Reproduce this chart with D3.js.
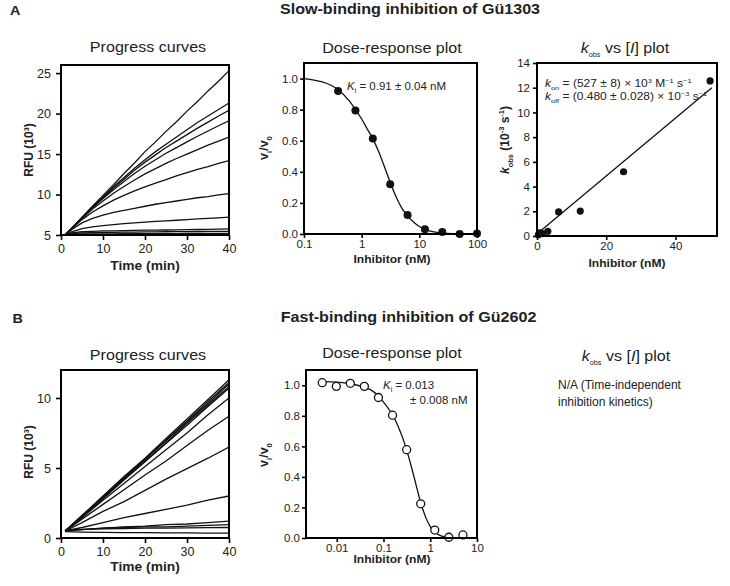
<!DOCTYPE html>
<html><head><meta charset="utf-8">
<script src="https://cdn.jsdelivr.net/npm/d3@7"></script>
<style>body{margin:0;background:#fff}svg{display:block}text{font-family:"Liberation Sans",Arial,sans-serif;fill:#222}</style>
</head><body><svg id="c" width="730" height="586"></svg>
<script>
// ---------------- DATA ----------------
const timeA = [1, 2.5, 5, 7.5, 10, 12.5, 15, 17.5, 20, 22.5, 25, 27.5, 30, 32.5, 35, 37.5, 40];
const progressA1 = [5.0, 5.8, 7.2, 8.55, 9.9, 11.2, 12.6, 13.9, 15.3, 16.5, 17.8, 19.0, 20.3, 21.5, 22.8, 24.0, 25.3];
const progressA2 = [5.0, 5.8, 7.15, 8.45, 9.7, 10.95, 12.1, 13.25, 14.3, 15.3, 16.2, 17.1, 18.0, 18.9, 19.7, 20.5, 21.3];
const progressA3 = [5.0, 5.8, 7.15, 8.4, 9.6, 10.8, 11.9, 13.0, 14.0, 14.9, 15.8, 16.6, 17.4, 18.2, 18.95, 19.7, 20.4];
const progressA4 = [5.0, 5.8, 7.1, 8.35, 9.5, 10.6, 11.6, 12.6, 13.5, 14.3, 15.1, 15.8, 16.5, 17.2, 17.85, 18.5, 19.1];
const progressA5 = [5.0, 5.78, 7.05, 8.2, 9.2, 10.15, 11.0, 11.8, 12.55, 13.2, 13.85, 14.45, 15.0, 15.55, 16.1, 16.6, 17.1];
const progressA6 = [5.0, 5.75, 6.9, 7.85, 8.6, 9.3, 9.9, 10.45, 10.95, 11.4, 11.85, 12.3, 12.7, 13.1, 13.45, 13.85, 14.2];
const progressA7 = [5.0, 5.65, 6.5, 7.05, 7.45, 7.8, 8.05, 8.3, 8.55, 8.8, 9.0, 9.2, 9.4, 9.6, 9.75, 9.95, 10.1];
const progressA8 = [5.0, 5.4, 5.8, 6.0, 6.15, 6.28, 6.4, 6.5, 6.6, 6.68, 6.75, 6.82, 6.9, 6.98, 7.05, 7.12, 7.2];
const progressA9 = [5.0, 5.25, 5.4, 5.45, 5.5, 5.52, 5.55, 5.57, 5.6, 5.61, 5.62, 5.64, 5.66, 5.68, 5.7, 5.72, 5.75];
const progressA10 = [5.0, 5.15, 5.25, 5.3, 5.32, 5.33, 5.35, 5.36, 5.38, 5.39, 5.4, 5.41, 5.42, 5.43, 5.44, 5.44, 5.45];
const progressA11 = [5.0, 5.08, 5.12, 5.14, 5.15, 5.15, 5.16, 5.16, 5.17, 5.17, 5.18, 5.18, 5.19, 5.19, 5.2, 5.2, 5.2];
const progressA12 = [5.0, 5.02, 5.03, 5.03, 5.04, 5.04, 5.04, 5.04, 5.04, 5.05, 5.05, 5.05, 5.05, 5.05, 5.05, 5.05, 5.05];

const timeB = [1, 5, 10, 15, 20, 25, 30, 35, 40];
const progressB1 = [0.5, 1.6, 3.0, 4.4, 5.7, 7.1, 8.5, 9.9, 11.3];
const progressB2 = [0.5, 1.55, 2.95, 4.3, 5.6, 7.0, 8.35, 9.75, 11.1];
const progressB3 = [0.5, 1.6, 2.9, 4.3, 5.65, 6.95, 8.3, 9.6, 11.0];
const progressB4 = [0.5, 1.5, 2.85, 4.2, 5.5, 6.8, 8.2, 9.5, 10.8];
const progressB5 = [0.5, 1.5, 2.8, 4.15, 5.45, 6.75, 8.05, 9.4, 10.7];
const progressB6 = [0.5, 1.45, 2.7, 3.9, 5.1, 6.3, 7.5, 8.8, 10.0];
const progressB7 = [0.5, 1.35, 2.4, 3.45, 4.5, 5.5, 6.6, 7.7, 8.7];
const progressB8 = [0.5, 1.1, 1.9, 2.6, 3.4, 4.2, 4.95, 5.7, 6.5];
const progressB9 = [0.5, 0.75, 1.1, 1.45, 1.75, 2.05, 2.35, 2.7, 3.0];
const progressB10 = [0.5, 0.6, 0.7, 0.8, 0.85, 0.95, 1.0, 1.1, 1.2];
const progressB11 = [0.55, 0.6, 0.7, 0.75, 0.8, 0.8, 0.85, 0.9, 0.95];
const progressB12 = [0.6, 0.62, 0.65, 0.68, 0.7, 0.7, 0.72, 0.74, 0.75];
const progressB13 = [0.45, 0.42, 0.4, 0.38, 0.38, 0.37, 0.36, 0.35, 0.35];

const doseAConc = [0.39, 0.78, 1.56, 3.125, 6.25, 12.5, 25, 50, 100];
const doseAResp = [0.92, 0.795, 0.614, 0.32, 0.123, 0.03, 0.013, 0.0, 0.004];
const doseAFitConc = [0.1, 0.15, 0.2, 0.3, 0.4, 0.6, 0.8, 1, 1.25, 1.5, 2, 2.5, 3, 4, 5, 6, 8, 10, 12.5, 15, 20, 30, 50, 100];
const doseAFitResp = [1.0, 0.99, 0.98, 0.955, 0.925, 0.86, 0.795, 0.74, 0.675, 0.625, 0.525, 0.43, 0.35, 0.235, 0.165, 0.125, 0.075, 0.048, 0.03, 0.02, 0.01, 0.004, 0.001, 0.0];

const doseBConc = [0.0049, 0.0098, 0.0195, 0.039, 0.078, 0.156, 0.3125, 0.625, 1.25, 2.5, 5];
const doseBResp = [1.017, 0.993, 1.013, 0.993, 0.92, 0.804, 0.578, 0.224, 0.052, 0.005, 0.02];
const doseBFitConc = [0.0049, 0.01, 0.02, 0.04, 0.06, 0.08, 0.1, 0.15, 0.2, 0.3, 0.4, 0.5, 0.6, 0.7, 0.8, 1.0, 1.25, 1.5, 2, 3, 5];
const doseBFitResp = [1.025, 1.02, 1.01, 0.985, 0.96, 0.925, 0.89, 0.815, 0.74, 0.595, 0.46, 0.345, 0.25, 0.185, 0.135, 0.075, 0.04, 0.022, 0.008, 0.002, 0.0];

const kobsConc = [0.39, 0.78, 1.56, 3.125, 6.25, 12.5, 25, 50];
const kobsVal = [0.1, 0.25, 0.2, 0.38, 1.95, 2.02, 5.2, 12.55];
const kobsFitConc = [0.3, 50.5];
const kobsFitVal = [0.25, 12.0];

const progATicksX = [0, 10, 20, 30, 40];
const progATicksY = [5, 10, 15, 20, 25];
const progBTicksY = [0, 5, 10];
const doseTicksY = [0.0, 0.2, 0.4, 0.6, 0.8, 1.0];
const doseATicksX = [0.1, 1, 10, 100];
const doseBTicksX = [0.01, 0.1, 1, 10];
const kobsTicksX = [0, 20, 40];
const kobsTicksY = [0, 2, 4, 6, 8, 10, 12, 14];

// ---------------- DRAW ----------------
const svg = d3.select('#c');
svg.append('rect').attr('width', 730).attr('height', 586).attr('fill', '#fff');

function rich(x, y, parts, o) {
  const t = svg.append('text')
    .attr('transform', `translate(${x},${y})${o.rot ? ` rotate(${o.rot})` : ''} scale(${o.sx || 1},1)`)
    .attr('text-anchor', o.anchor || 'start')
    .attr('font-size', o.size)
    .attr('font-weight', o.weight || 'normal');
  let shift = 0;
  parts.forEach(p => {
    const [s, kind] = Array.isArray(p) ? p : [p, ''];
    const ts = t.append('tspan').text(s);
    let target = 0, fs = null;
    if (kind.includes('sub')) { target = o.size * 0.3; fs = o.size * (o.subScale || 0.62); }
    if (kind.includes('sup')) { target = -o.size * 0.38; fs = o.size * 0.62; }
    if (kind.includes('i')) ts.attr('font-style', 'italic');
    if (fs) ts.attr('font-size', fs);
    ts.attr('dy', target - shift);
    shift = target;
  });
  return t;
}

function styleAxis(g, fs) {
  g.select('.domain').remove();
  g.selectAll('line').attr('stroke', '#000').attr('stroke-width', 1.6);
  g.selectAll('text').attr('font-size', fs).attr('fill', '#222').attr('font-family', '"Liberation Sans",Arial,sans-serif');
}

function axes(x, y, box, o) {
  svg.append('g').attr('transform', `translate(0,${box.b})`)
    .call(d3.axisBottom(x).tickValues(o.xt).tickSize(o.tick).tickSizeOuter(0).tickPadding(o.xpad).tickFormat(o.xf || d3.format('')))
    .call(g => styleAxis(g, o.fs));
  svg.append('g').attr('transform', `translate(${box.l},0)`)
    .call(d3.axisLeft(y).tickValues(o.yt).tickSize(o.tick).tickSizeOuter(0).tickPadding(o.ypad).tickFormat(o.yf || d3.format('')))
    .call(g => styleAxis(g, o.fs));
  svg.append('rect').attr('x', box.l).attr('y', box.t).attr('width', box.r - box.l).attr('height', box.b - box.t)
    .attr('fill', 'none').attr('stroke', '#000').attr('stroke-width', 2);
}

function clipFor(id, box) {
  svg.append('clipPath').attr('id', id).append('rect')
    .attr('x', box.l).attr('y', box.t).attr('width', box.r - box.l).attr('height', box.b - box.t);
}

// ---- Panel A progress
{
  const box = { l: 61, r: 229, t: 65, b: 235 };
  const x = d3.scaleLinear().domain([0, 40]).range([box.l, box.r]);
  const y = d3.scaleLinear().domain([5, 26]).range([box.b, box.t]);
  const series = [progressA1, progressA2, progressA3, progressA4, progressA5, progressA6, progressA7, progressA8, progressA9, progressA10, progressA11, progressA12];
  clipFor('cpa', box);
  const line = d3.line().x((d, i) => x(timeA[i])).y(d => y(d));
  svg.append('g').attr('clip-path', 'url(#cpa)').selectAll('path').data(series).join('path')
    .attr('d', line).attr('fill', 'none').attr('stroke', '#111').attr('stroke-width', 1.3);
  axes(x, y, box, { xt: progATicksX, yt: progATicksY, tick: 5, xpad: 4, ypad: 5, fs: 12.5 });
  rich(145, 270, ['Time (min)'], { size: 12, weight: 'bold', anchor: 'middle', sx: 1.15 });
  rich(33, 150, ['RFU (10', ['³', ''], ')'], { size: 12, weight: 'bold', anchor: 'middle', rot: -90 });
  rich(148, 51.5, ['Progress curves'], { size: 14, anchor: 'middle', sx: 1.15 });
}

// ---- Panel A dose-response
{
  const box = { l: 304, r: 477, t: 63, b: 234 };
  const x = d3.scaleLog().domain([0.1, 100]).range([box.l, box.r]);
  const y = d3.scaleLinear().domain([0, 1.1]).range([box.b, box.t]);
  const line = d3.line().x((d, i) => x(doseAFitConc[i])).y(d => y(d)).curve(d3.curveMonotoneX);
  svg.append('path').datum(doseAFitResp).attr('d', line).attr('fill', 'none').attr('stroke', '#111').attr('stroke-width', 1.3);
  svg.append('g').selectAll('circle').data(doseAResp).join('circle')
    .attr('cx', (d, i) => x(doseAConc[i])).attr('cy', d => y(d)).attr('r', 4).attr('fill', '#111');
  axes(x, y, box, { xt: doseATicksX, yt: doseTicksY, tick: 4, xpad: 2, ypad: 2, fs: 11.5, xf: d3.format(''), yf: d3.format('.1f') });
  rich(392, 263, ['Inhibitor (nM)'], { size: 10.5, weight: 'bold', anchor: 'middle', sx: 1.15 });
  rich(268, 148, ['v', ['i', 'sub'], '/v', ['0', 'sub']], { size: 12.5, weight: 'bold', anchor: 'middle', rot: -90 });
  rich(392, 52.5, ['Dose-response plot'], { size: 14, anchor: 'middle', sx: 1.15 });
  rich(347, 90, [['K', 'i'], ['i', 'sub'], ' = 0.91 ± 0.04 nM'], { size: 11.5 });
}

// ---- Panel A kobs
{
  const box = { l: 537, r: 717, t: 63, b: 236 };
  const x = d3.scaleLinear().domain([0, 52]).range([box.l, box.r]);
  const y = d3.scaleLinear().domain([0, 14]).range([box.b, box.t]);
  const line = d3.line().x((d, i) => x(kobsFitConc[i])).y(d => y(d));
  svg.append('path').datum(kobsFitVal).attr('d', line).attr('fill', 'none').attr('stroke', '#111').attr('stroke-width', 1.3);
  svg.append('g').selectAll('circle').data(kobsVal).join('circle')
    .attr('cx', (d, i) => x(kobsConc[i])).attr('cy', d => y(d)).attr('r', 3.6).attr('fill', '#111');
  axes(x, y, box, { xt: kobsTicksX, yt: kobsTicksY, tick: 4, xpad: 2, ypad: 3, fs: 11.5 });
  rich(627, 267, ['Inhibitor (nM)'], { size: 10.5, weight: 'bold', anchor: 'middle', sx: 1.15 });
  rich(509, 140, [['k', 'i'], ['obs', 'sub'], ' (10', ['-3', 'sup'], ' s', ['-1', 'sup'], ')'], { size: 12, weight: 'bold', anchor: 'middle', rot: -90 });
  rich(625, 53, [['k', 'i'], ['obs', 'sub'], ' vs [', ['I', 'i'], '] plot'], { size: 14, anchor: 'middle', sx: 1.15, subScale: 0.45 });
  rich(545, 87, [['k', 'i'], ['on', 'sub'], ' = (527 ± 8) × 10', ['3', 'sup'], ' M', ['−1', 'sup'], ' s', ['−1', 'sup']], { size: 10, sx: 1.2 });
  rich(545, 99.5, [['k', 'i'], ['off', 'sub'], '  = (0.480 ± 0.028) × 10', ['−3', 'sup'], ' s', ['−1', 'sup']], { size: 10, sx: 1.2 });
}

// ---- Panel B progress
{
  const box = { l: 61, r: 229, t: 370, b: 538 };
  const x = d3.scaleLinear().domain([0, 40]).range([box.l, box.r]);
  const y = d3.scaleLinear().domain([0, 12]).range([box.b, box.t]);
  const series = [progressB1, progressB2, progressB3, progressB4, progressB5, progressB6, progressB7, progressB8, progressB9, progressB10, progressB11, progressB12, progressB13];
  clipFor('cpb', box);
  const line = d3.line().x((d, i) => x(timeB[i])).y(d => y(d));
  svg.append('g').attr('clip-path', 'url(#cpb)').selectAll('path').data(series).join('path')
    .attr('d', line).attr('fill', 'none').attr('stroke', '#111').attr('stroke-width', 1.3);
  axes(x, y, box, { xt: progATicksX, yt: progBTicksY, tick: 5, xpad: 4, ypad: 5, fs: 12.5 });
  rich(145, 571, ['Time (min)'], { size: 12, weight: 'bold', anchor: 'middle', sx: 1.15 });
  rich(33, 452, ['RFU (10', ['³', ''], ')'], { size: 12, weight: 'bold', anchor: 'middle', rot: -90 });
  rich(148, 360, ['Progress curves'], { size: 14, anchor: 'middle', sx: 1.15 });
}

// ---- Panel B dose-response
{
  const box = { l: 306, r: 477, t: 370, b: 538 };
  const x = d3.scaleLog().domain([0.0022, 10]).range([box.l, box.r]);
  const y = d3.scaleLinear().domain([0, 1.1]).range([box.b, box.t]);
  const line = d3.line().x((d, i) => x(doseBFitConc[i])).y(d => y(d)).curve(d3.curveMonotoneX);
  svg.append('path').datum(doseBFitResp).attr('d', line).attr('fill', 'none').attr('stroke', '#111').attr('stroke-width', 1.3);
  svg.append('g').selectAll('circle').data(doseBResp).join('circle')
    .attr('cx', (d, i) => x(doseBConc[i])).attr('cy', d => y(d)).attr('r', 4)
    .attr('fill', '#fff').attr('stroke', '#111').attr('stroke-width', 1.3);
  axes(x, y, box, { xt: doseBTicksX, yt: doseTicksY, tick: 4, xpad: 2, ypad: 2, fs: 11.5, xf: d3.format(''), yf: d3.format('.1f') });
  rich(392, 563, ['Inhibitor (nM)'], { size: 10.5, weight: 'bold', anchor: 'middle', sx: 1.15 });
  rich(268, 455, ['v', ['i', 'sub'], '/v', ['0', 'sub']], { size: 12.5, weight: 'bold', anchor: 'middle', rot: -90 });
  rich(392, 358, ['Dose-response plot'], { size: 14, anchor: 'middle', sx: 1.15 });
  rich(383, 389, [['K', 'i'], ['i', 'sub'], ' = 0.013'], { size: 11.5 });
  rich(410, 403.5, ['± 0.008 nM'], { size: 11.5 });
}

// ---- Panel B kobs (N/A)
rich(626, 361, [['k', 'i'], ['obs', 'sub'], ' vs [', ['I', 'i'], '] plot'], { size: 14, anchor: 'middle', sx: 1.15, subScale: 0.45 });
rich(558, 389, ['N/A (Time-independent'], { size: 12 });
rich(558, 406, ['inhibition kinetics)'], { size: 12 });

// ---- Headings
rich(10, 15, ['A'], { size: 12.5, weight: 'bold', sx: 1.15 });
rich(12.5, 322.5, ['B'], { size: 12.5, weight: 'bold', sx: 1.15 });
rich(410, 13.5, ['Slow-binding inhibition of Gü1303'], { size: 14, weight: 'bold', anchor: 'middle', sx: 1.15 });
rich(408.5, 321.5, ['Fast-binding inhibition of Gü2602'], { size: 14, weight: 'bold', anchor: 'middle', sx: 1.15 });
</script></body></html>
